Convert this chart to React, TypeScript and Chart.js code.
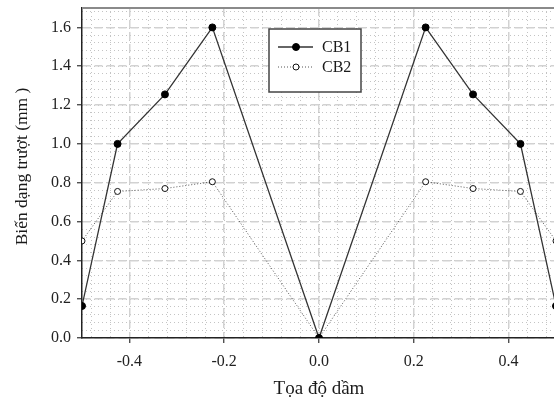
import React, { useEffect, useRef } from "react";
import { Chart, registerables } from "chart.js";
Chart.register(...registerables);

const xPositions = [-0.5, -0.425, -0.325, -0.225, 0, 0.225, 0.325, 0.425, 0.5];
const cb1Values = [0.165, 1.0, 1.255, 1.6, 0, 1.6, 1.255, 1.0, 0.165];
const cb2Values = [0.5, 0.755, 0.77, 0.805, 0, 0.805, 0.77, 0.755, 0.5];
const seriesNames = ["CB1", "CB2"];
const xTickValues = [-0.4, -0.2, 0, 0.2, 0.4];
const yTickValues = [0, 0.2, 0.4, 0.6, 0.8, 1.0, 1.2, 1.4, 1.6];
const xTitle = "Tọa độ dầm";
const yTitle = "   Biến dạng trượt (mm )";

const FONT = '"Liberation Serif", "Times New Roman", serif';

function minorTicks(min: number, max: number, step: number) {
  const out: { value: number }[] = [];
  const n = Math.round((max - min) / step);
  for (let i = 0; i <= n; i++) out.push({ value: +(min + i * step).toFixed(4) });
  return out;
}

const frameAndLegend = {
  id: "frameAndLegend",
  beforeDatasetsDraw(chart: any) {
    const { ctx, chartArea } = chart;
    ctx.save();
    ctx.strokeStyle = "#8a8a8a";
    ctx.lineWidth = 2;
    ctx.beginPath();
    ctx.moveTo(chartArea.left, chartArea.top);
    ctx.lineTo(chartArea.right, chartArea.top);
    ctx.stroke();
    ctx.restore();
  },
  afterDraw(chart: any) {
    const { ctx, chartArea } = chart;
    const x = chartArea.left + 187;
    const y = chartArea.top + 21;
    const w = 92;
    const h = 63;
    ctx.save();
    ctx.fillStyle = "#ffffff";
    ctx.fillRect(x, y, w, h);
    ctx.strokeStyle = "#444444";
    ctx.lineWidth = 1.5;
    ctx.strokeRect(x, y, w, h);
    chart.data.datasets.forEach((ds: any, i: number) => {
      const ly = y + 18 + i * 20;
      ctx.beginPath();
      ctx.setLineDash(ds.borderDash || []);
      ctx.strokeStyle = ds.borderColor;
      ctx.lineWidth = ds.borderWidth;
      ctx.moveTo(x + 9, ly);
      ctx.lineTo(x + 44, ly);
      ctx.stroke();
      ctx.setLineDash([]);
      ctx.beginPath();
      ctx.arc(x + 27, ly, ds.pointRadius, 0, Math.PI * 2);
      ctx.fillStyle = ds.pointBackgroundColor;
      ctx.fill();
      ctx.lineWidth = 1;
      ctx.strokeStyle = ds.pointBorderColor;
      ctx.stroke();
      ctx.fillStyle = "#1a1a1a";
      ctx.font = `16px ${FONT}`;
      ctx.textBaseline = "middle";
      ctx.textAlign = "left";
      ctx.fillText(ds.label, x + 53, ly + 1);
    });
    ctx.restore();
  },
};

export default function App() {
  const ref = useRef<HTMLCanvasElement | null>(null);
  useEffect(() => {
    document.body.style.margin = "0";
    const canvas = ref.current!;
    const chart = new Chart(canvas, {
      type: "line",
      data: {
        datasets: [
          {
            label: seriesNames[0],
            data: xPositions.map((x, i) => ({ x, y: cb1Values[i] })),
            borderColor: "#333333",
            borderWidth: 1.3,
            pointRadius: 3.5,
            pointBackgroundColor: "#000000",
            pointBorderColor: "#000000",
            pointBorderWidth: 1,
            tension: 0,
          },
          {
            label: seriesNames[1],
            data: xPositions.map((x, i) => ({ x, y: cb2Values[i] })),
            borderColor: "#555555",
            borderWidth: 1,
            borderDash: [1, 2],
            pointRadius: 3,
            pointBackgroundColor: "#ffffff",
            pointBorderColor: "#111111",
            pointBorderWidth: 1,
            tension: 0,
          },
        ],
      },
      options: {
        responsive: false,
        animation: false,
        layout: { padding: { left: 0, top: 8, right: 14, bottom: 0 } },
        plugins: { legend: { display: false }, tooltip: { enabled: false } },
        scales: {
          xMinor: {
            type: "linear",
            position: "bottom",
            min: -0.5,
            max: 0.5,
            afterBuildTicks: (s: any) => {
              s.ticks = minorTicks(-0.48, 0.48, 0.04);
            },
            afterFit: (s: any) => {
              s.height = 0;
              s.paddingLeft = 0;
              s.paddingRight = 0;
            },
            ticks: { display: false },
            grid: { color: "#c4c4c4", lineWidth: 1, drawTicks: false, z: -1 },
            border: { display: false, dash: [1, 3] },
          },
          yMinor: {
            type: "linear",
            position: "left",
            min: 0,
            max: 1.7,
            afterBuildTicks: (s: any) => {
              s.ticks = minorTicks(0.04, 1.68, 0.04);
            },
            afterFit: (s: any) => {
              s.width = 0;
              s.paddingTop = 0;
              s.paddingBottom = 0;
            },
            ticks: { display: false },
            grid: { color: "#c4c4c4", lineWidth: 1, drawTicks: false, z: -1 },
            border: { display: false, dash: [1, 3] },
          },
          x: {
            type: "linear",
            position: "bottom",
            min: -0.5,
            max: 0.5,
            afterBuildTicks: (s: any) => {
              s.ticks = xTickValues.map((value) => ({ value }));
            },
            afterFit: (s: any) => {
              s.height = 62;
              s.paddingLeft = 0;
              s.paddingRight = 0;
            },
            ticks: {
              color: "#222222",
              font: { family: FONT, size: 16 },
              padding: 9,
              maxRotation: 0,
              callback: (v: any) => Number(v).toFixed(1),
            },
            grid: { color: "#d2d2d2", lineWidth: 1.5, tickLength: 5, tickColor: "#333333", tickWidth: 1.2 },
            border: { display: true, color: "#222222", width: 1.5, dash: [8, 4] },
            title: {
              display: true,
              text: xTitle,
              color: "#1a1a1a",
              font: { family: FONT, size: 19 },
              padding: { top: 0, bottom: 0 },
            },
          },
          y: {
            type: "linear",
            position: "left",
            min: 0,
            max: 1.7,
            afterBuildTicks: (s: any) => {
              s.ticks = yTickValues.map((value) => ({ value }));
            },
            afterFit: (s: any) => {
              s.width = 82;
              s.paddingTop = 0;
              s.paddingBottom = 0;
            },
            ticks: {
              color: "#222222",
              font: { family: FONT, size: 16 },
              padding: 6,
              callback: (v: any) => Number(v).toFixed(1),
            },
            grid: { color: "#d2d2d2", lineWidth: 1.5, tickLength: 5, tickColor: "#333333", tickWidth: 1.2 },
            border: { display: true, color: "#222222", width: 1.5, dash: [8, 4] },
            title: {
              display: true,
              text: yTitle,
              color: "#1a1a1a",
              font: { family: FONT, size: 17.5 },
              padding: { top: 12, bottom: 0 },
            },
          },
        },
      } as any,
      plugins: [frameAndLegend],
    });
    return () => chart.destroy();
  }, []);
  return (
    <div style={{ position: "fixed", left: 0, top: 0, width: 554, height: 400, overflow: "hidden", background: "#fff" }}>
      <canvas ref={ref} width={570} height={400} style={{ display: "block" }} />
    </div>
  );
}
